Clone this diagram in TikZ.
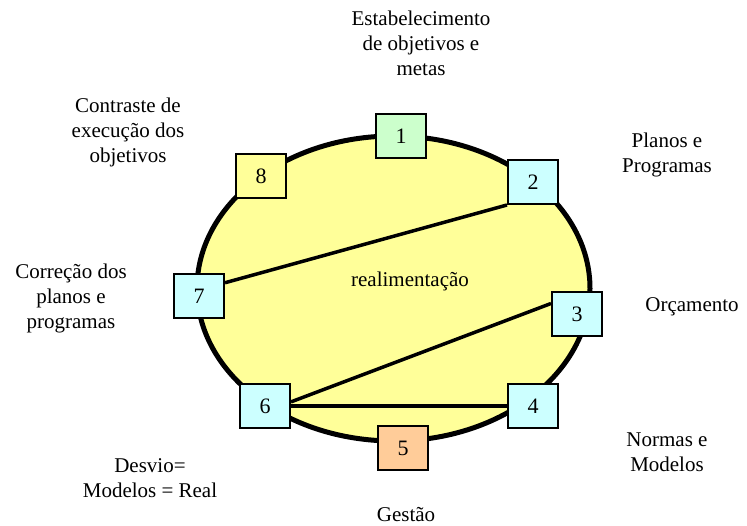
\documentclass[tikz,border=0pt]{standalone}
\usepackage{fontspec}
\setmainfont{Liberation Serif}
\newfontfamily\fonteserif{Liberation Serif}
\usepackage{xcolor}
\usepackage{tikz}
\usetikzlibrary{positioning}

\definecolor{cicloamarelo}{HTML}{FFFF99}
\definecolor{caixaverde}{HTML}{CCFFCC}
\definecolor{caixaciano}{HTML}{CCFFFF}
\definecolor{caixalaranja}{HTML}{FFCC99}

\begin{document}
\begin{tikzpicture}[x=1pt, y=-1pt,
    etapa/.style={draw, line width=2pt, minimum width=50pt, minimum height=44pt, inner sep=0pt,
                  font=\fonteserif\fontsize{22}{25}\selectfont},
    rotulo/.style={align=center, font=\fonteserif\fontsize{21}{25}\selectfont},
    laco/.style={line width=3.5pt}]
    \useasboundingbox (0,0) rectangle (747,526);

    % Ciclo
    \draw[fill=cicloamarelo, line width=5pt] (393.5,288.5) ellipse (196.5pt and 152.5pt);
    \node[rotulo] (realim) at (410,281) {realimentação};

    % Etapas
    \node[etapa, fill=caixaverde] (box1) at (401,136) {1};
    \node[etapa, fill=caixaciano] (box2) at (533,182) {2};
    \node[etapa, fill=caixaciano] (box3) at (577,314) {3};
    \node[etapa, fill=caixaciano] (box4) at (533,406) {4};
    \node[etapa, fill=caixalaranja] (box5) at (403,448) {5};
    \node[etapa, fill=caixaciano] (box6) at (265,406) {6};
    \node[etapa, fill=caixaciano] (box7) at (199,296) {7};
    \node[etapa, fill=cicloamarelo] (box8) at (261,176) {8};

    % Realimentacao
    \draw[laco] (box2.south west) -- (box7.27);
    \draw[laco] (box3.158) -- (box6.9);
    \draw[laco] (box6.east) -- (box4.west);

    % Rotulos
    \node[rotulo] (obj) at (421,43) {Estabelecimento\\de objetivos e\\metas};
    \node[rotulo] (planos) at (667,155) {Planos e\\Programas};
    \node[rotulo] (orc) at (692,307) {Orçamento};
    \node[rotulo] (normas) at (667,452) {Normas e\\Modelos};
    \node[rotulo] (gestao) at (406,515) {Gestão};
    \node[rotulo] (desvio) at (150,478) {Desvio=\\Modelos = Real};
    \node[rotulo] (correcao) at (71,298) {Correção dos\\planos e\\programas};
    \node[rotulo] (contraste) at (128,132) {Contraste de\\execução dos\\objetivos};
\end{tikzpicture}
\end{document}
